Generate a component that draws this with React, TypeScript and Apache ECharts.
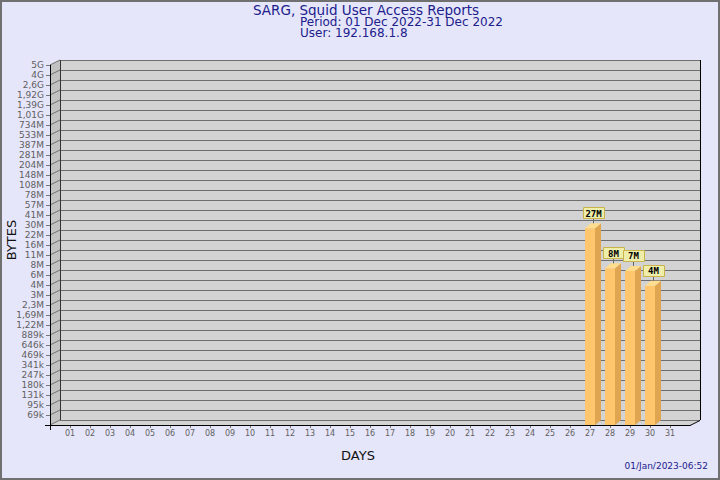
import React, { useEffect, useRef } from "react";
import * as echarts from "echarts";

// ---- data ----
const titleLine = "SARG, Squid User Access Reports";
const periodLine = "Period: 01 Dec 2022-31 Dec 2022";
const userLine = "User: 192.168.1.8";
const stampText = "01/Jan/2023-06:52";
const yAxisName = "BYTES";
const xAxisName = "DAYS";

const days = [
  "01", "02", "03", "04", "05", "06", "07", "08", "09", "10",
  "11", "12", "13", "14", "15", "16", "17", "18", "19", "20",
  "21", "22", "23", "24", "25", "26", "27", "28", "29", "30", "31",
];

const yTickLabels = [
  "69k", "95k", "131k", "180k", "247k", "341k", "469k", "646k", "889k",
  "1,22M", "1,69M", "2,3M", "3M", "4M", "6M", "8M", "11M", "16M", "22M",
  "30M", "41M", "57M", "78M", "108M", "148M", "204M", "281M", "387M",
  "533M", "734M", "1,01G", "1,39G", "1,92G", "2,6G", "4G", "5G",
];

const barDays = ["27", "28", "29", "30"];
const barBytes = [27.0e6, 7.5e6, 6.9e6, 4.3e6];
const barLabels = ["27M", "8M", "7M", "4M"];

// geometric byte scale used by the report (one step per tick)
const FLOOR_BYTES = 50120;
const STEP_RATIO = 1.3767;
const toLevel = (b: number) => Math.log(b / FLOOR_BYTES) / Math.log(STEP_RATIO);

const xCats = ["", ...days, " "];

const FONT = "DejaVu Sans";

export default function App() {
  const ref = useRef<HTMLDivElement>(null);

  useEffect(() => {
    if (!ref.current) return;
    document.body.style.margin = "0";
    const chart = echarts.init(ref.current, undefined, { renderer: "svg" });

    const px = (v: number) => Math.round(v) + 0.5;
    const levels = yTickLabels.length;

    const frameItem = (_params: any, api: any) => {
      const bl = api.coord([0, 0]);
      const tl = api.coord([0, levels]);
      const br = api.coord([xCats.length - 1, 0]);
      const dx = 10;
      const dy = -5;
      const ch: any[] = [];
      ch.push({
        type: "polygon",
        shape: { points: [tl, [tl[0] + dx, tl[1] + dy], [bl[0] + dx, bl[1] + dy], bl] },
        style: { fill: "#C2C2C2" },
      });
      ch.push({
        type: "polygon",
        shape: { points: [bl, [bl[0] + dx, bl[1] + dy], [br[0] + dx, br[1] + dy], br] },
        style: { fill: "#D3D3D3" },
      });
      for (let k = 0; k <= levels; k++) {
        const p = api.coord([0, k]);
        ch.push({
          type: "line",
          shape: { x1: p[0], y1: p[1], x2: p[0] + dx, y2: p[1] + dy },
          style: { stroke: "#707070", lineWidth: 1 },
        });
      }
      // floor back edge
      ch.push({
        type: "line",
        shape: { x1: bl[0] + dx, y1: px(bl[1] + dy), x2: br[0] + dx, y2: px(bl[1] + dy) },
        style: { stroke: "#707070", lineWidth: 1 },
      });
      // back wall left edge
      ch.push({
        type: "line",
        shape: { x1: px(tl[0] + dx), y1: tl[1] + dy, x2: px(bl[0] + dx), y2: bl[1] + dy },
        style: { stroke: "#333333", lineWidth: 1 },
      });
      // back wall right edge
      ch.push({
        type: "line",
        shape: { x1: px(br[0] + dx), y1: tl[1] + dy, x2: px(br[0] + dx), y2: br[1] + dy },
        style: { stroke: "#000000", lineWidth: 1 },
      });
      // floor front edge
      ch.push({
        type: "line",
        shape: { x1: bl[0] - 5, y1: px(bl[1]), x2: br[0], y2: px(br[1]) },
        style: { stroke: "#000000", lineWidth: 1 },
      });
      ch.push({
        type: "line",
        shape: { x1: br[0], y1: br[1] + 0.5, x2: br[0] + dx, y2: br[1] + dy + 0.5 },
        style: { stroke: "#000000", lineWidth: 1 },
      });
      // y axis extension below floor
      ch.push({
        type: "line",
        shape: { x1: px(bl[0]), y1: tl[1], x2: px(bl[0]), y2: bl[1] + 5 },
        style: { stroke: "#000000", lineWidth: 1 },
      });
      return { type: "group", children: ch };
    };

    const barItem = (params: any, api: any) => {
      const x = api.value(0);
      const lvl = api.value(1);
      const top = api.coord([x, lvl]);
      const base = api.coord([x, 0]);
      const hw = 5;
      const bdx = 6;
      const bdy = -5;
      const l = top[0] - hw;
      const r = top[0] + hw;
      const lx = top[0] + 3;
      const topBack = top[1] + bdy;
      const boxW = 21;
      const boxH = 11;
      const boxBottom = topBack - 5;
      return {
        type: "group",
        children: [
          {
            type: "rect",
            shape: { x: l, y: top[1], width: hw * 2, height: base[1] - top[1] },
            style: { fill: "#FFC66E" },
          },
          {
            type: "polygon",
            shape: { points: [[r, top[1]], [r + bdx, top[1] + bdy], [r + bdx, base[1] + bdy], [r, base[1]]] },
            style: { fill: "#E0A550" },
          },
          {
            type: "polygon",
            shape: { points: [[l, top[1]], [l + bdx, top[1] + bdy], [r + bdx, top[1] + bdy], [r, top[1]]] },
            style: { fill: "#FFDD8E" },
          },
          {
            type: "line",
            shape: { x1: px(lx), y1: topBack, x2: px(lx), y2: boxBottom },
            style: { stroke: "#666666", lineWidth: 1 },
          },
          {
            type: "rect",
            shape: { x: Math.round(lx - boxW / 2) + 0.5, y: Math.round(boxBottom - boxH) + 0.5, width: boxW, height: boxH },
            style: { fill: "#EEEEAA", stroke: "#C8B44A", lineWidth: 1 },
          },
          {
            type: "text",
            x: lx + 0.5,
            y: Math.round(boxBottom - boxH / 2) + 1,
            style: {
              text: barLabels[params.dataIndex],
              fill: "#000000",
              font: 'bold 9px "DejaVu Sans Mono"',
              align: "center",
              verticalAlign: "middle",
            },
          },
        ],
      };
    };

    const subStyle = { fontSize: 12, fontWeight: "normal" as const, color: "#20208C", fontFamily: FONT, lineHeight: 11 };
    const mainStyle = { ...subStyle, fontSize: 13.5 };

    chart.setOption({
      animation: false,
      backgroundColor: "#E6E6FA",
      title: [
        { text: titleLine, left: 253, top: 4, padding: 0, textStyle: mainStyle },
        { text: periodLine + "\n" + userLine, left: 300, top: 16, padding: 0, textStyle: subStyle },
      ],
      grid: [
        { left: 50, right: 30, top: 65, bottom: 55, containLabel: false },
        {
          left: 60, right: 20, top: 60, bottom: 60, show: true,
          backgroundColor: "#D3D3D3", borderWidth: 0,
        },
      ],
      xAxis: [
        {
          gridIndex: 0,
          type: "category",
          data: xCats,
          boundaryGap: false,
          axisLine: { show: true, lineStyle: { color: "#000" } },
          axisTick: {
            show: true,
            length: 3,
            interval: (i: number) => i > 0 && i < xCats.length - 1,
            lineStyle: { color: "#777" },
          },
          axisLabel: {
            interval: 0,
            margin: 4,
            color: "#606060",
            fontSize: 8,
            fontFamily: FONT,
            formatter: (v: string) => v.trim(),
          },
          splitLine: { show: false },
        },
        { gridIndex: 1, type: "value", min: 0, max: 1, show: false },
      ],
      yAxis: [
        {
          gridIndex: 0,
          type: "value",
          min: 0,
          max: yTickLabels.length,
          interval: 1,
          axisLine: { show: true, lineStyle: { color: "#000" } },
          axisTick: { show: true, length: 4, lineStyle: { color: "#777" } },
          axisLabel: {
            margin: 6,
            color: "#606060",
            fontSize: 9,
            fontFamily: FONT,
            formatter: (v: number) => (v >= 1 ? yTickLabels[Math.round(v) - 1] : ""),
          },
          splitLine: { show: false },
        },
        {
          gridIndex: 1,
          type: "value",
          min: 0,
          max: yTickLabels.length,
          interval: 1,
          axisLine: { show: false },
          axisTick: { show: false },
          axisLabel: { show: false },
          splitLine: { show: true, lineStyle: { color: "#6E6E6E", width: 1 } },
        },
      ],
      series: [
        {
          type: "custom",
          xAxisIndex: 0,
          yAxisIndex: 0,
          clip: false,
          z: 1,
          silent: true,
          data: [[0, 0]],
          renderItem: frameItem,
        },
        {
          type: "custom",
          xAxisIndex: 0,
          yAxisIndex: 0,
          clip: false,
          z: 5,
          data: barDays.map((d, i) => [days.indexOf(d) + 1, toLevel(barBytes[i])]),
          renderItem: barItem,
        },
      ],
      graphic: [
        {
          type: "rect",
          shape: { x: 1, y: 1, width: 718, height: 478 },
          style: { fill: "none", stroke: "#707070", lineWidth: 2 },
          silent: true,
        },
        {
          type: "text",
          x: 11,
          y: 240,
          rotation: Math.PI / 2,
          style: {
            text: yAxisName, fill: "#111", font: `13px "${FONT}"`,
            align: "center", verticalAlign: "middle",
          },
        },
        {
          type: "text",
          x: 358,
          y: 455,
          style: {
            text: xAxisName, fill: "#111", font: `13px "${FONT}"`,
            align: "center", verticalAlign: "middle",
          },
        },
        {
          type: "text",
          x: 708,
          y: 466,
          style: {
            text: stampText, fill: "#20208C", font: `9px "${FONT}"`,
            align: "right", verticalAlign: "middle",
          },
        },
      ],
    });

    return () => chart.dispose();
  }, []);

  return (
    <div
      ref={ref}
      style={{ position: "fixed", left: 0, top: 0, width: 720, height: 480 }}
    />
  );
}
